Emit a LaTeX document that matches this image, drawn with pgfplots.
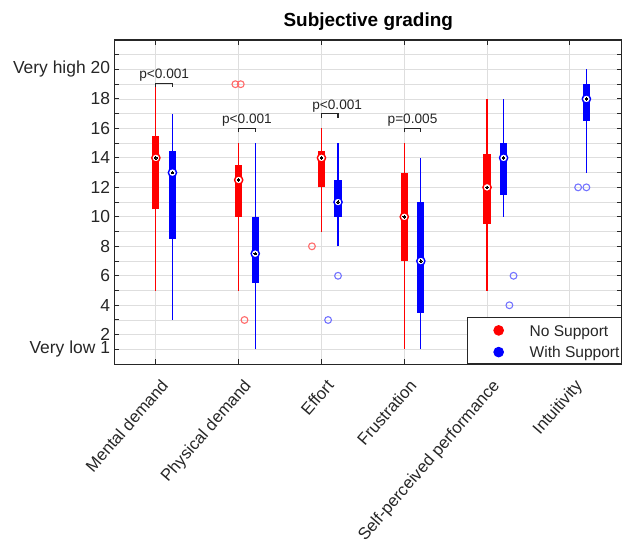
\documentclass[border=0pt]{standalone}
\usepackage{fontspec}
\setmainfont{Liberation Sans}
\usepackage{pgfplots}
\pgfplotsset{compat=1.18}
\definecolor{mred}{rgb}{1,0,0}
\definecolor{mblue}{rgb}{0,0,1}
\definecolor{ored}{rgb}{1,0.42,0.42}
\definecolor{oblue}{rgb}{0.45,0.45,1}
\definecolor{axgray}{rgb}{0.15,0.15,0.15}
\newcommand{\bx}[7]{%
  \addplot[#7, line width=1.2bp, forget plot] coordinates {(#1,#2) (#1,#6)};
  \addplot[#7, line width=7.2bp, forget plot] coordinates {(#1,#3) (#1,#5)};
  \addplot[only marks, mark=*, mark size=4.1bp, mark options={draw=#7, fill=white, line width=1.4bp}, forget plot] coordinates {(#1,#4)};
  \addplot[only marks, mark=*, mark size=1.3bp, mark options={draw=black, fill=black, line width=0pt}, forget plot] coordinates {(#1,#4)};
}
\newcommand{\brk}[2]{%
  \addplot[axgray, line width=1.2bp, forget plot] coordinates {(#1,#2-0.27) (#1,#2) (#1+0.2,#2) (#1+0.2,#2-0.27)};
}
\pgfplotsset{
  redleg/.style={legend image code/.code={\path[draw=none,fill=none] (0bp,-4bp) rectangle (60bp,12.5bp); \draw[mred, mark=*, mark size=4.8bp, mark options={draw=mred, fill=mred}] plot coordinates {(29bp,1.6bp)};}},
  blueleg/.style={legend image code/.code={\path[draw=none,fill=none] (0bp,-4bp) rectangle (60bp,4bp); \draw[mblue, mark=*, mark size=4.8bp, mark options={draw=mblue, fill=mblue}] plot coordinates {(29bp,1.6bp)};}},
}
\begin{document}
\begin{tikzpicture}
\begin{axis}[
  width=507.5bp, height=324.2bp, scale only axis,
  xmin=0.5, xmax=6.63, ymin=0, ymax=22,
  xtick={1,2,3,4,5,6},
  xticklabels={Mental demand,Physical demand,Effort,Frustration,Self-perceived performance,Intuitivity},
  ytick={1,2,4,6,8,10,12,14,16,18,20},
  yticklabels={Very low 1,2,4,6,8,10,12,14,16,18,Very high 20},
  minor ytick={3,5,...,21},
  xmajorgrids, ymajorgrids, yminorgrids,
  major grid style={draw=black!13, line width=0.8bp},
  minor grid style={draw=black!13, line width=0.8bp},
  axis line style={draw=axgray, line width=1.1bp},
  every tick/.style={draw=axgray, line width=1bp},
  major tick length=5bp, minor tick length=5bp,
  tick align=inside,
  yticklabel style={font=\fontsize{17.5}{20}\selectfont, text=axgray, xshift=-1bp},
  xticklabel style={font=\fontsize{16.8}{19}\selectfont, text=axgray, rotate=49, anchor=north east, inner sep=0pt, xshift=-7.9bp, yshift=-12.1bp},
  title={Subjective grading},
  title style={at={(0.5,1)}, anchor=base, yshift=8bp, font=\bfseries\fontsize{19}{22}\selectfont, text=black},
  legend style={at={(1,0)}, anchor=south east, draw=axgray, line width=1bp, fill=white,
    inner xsep=2bp, inner ysep=2.5bp, row sep=6.7bp,
    font=\fontsize{15.6}{18}\selectfont, text=axgray,
    nodes={inner sep=0pt, text height=11.5bp, text depth=3.5bp},
    cells={anchor=west}},
]
% No Support (red)
\bx{1}{5}{10.5}{14}{15.5}{19}{mred}
\bx{2}{5}{10}{12.5}{13.5}{15}{mred}
\bx{3}{9}{12}{14}{14.5}{16}{mred}
\bx{4}{1}{7}{10}{13}{15}{mred}
\bx{5}{5}{9.5}{12}{14.25}{18}{mred}
% With Support (blue)
\bx{1.2}{3}{8.5}{13}{14.5}{17}{mblue}
\bx{2.2}{1}{5.5}{7.5}{10}{15}{mblue}
\bx{3.2}{8}{10}{11}{12.5}{15}{mblue}
\bx{4.2}{1}{3.5}{7}{11}{14}{mblue}
\bx{5.2}{10}{11.5}{14}{15}{18}{mblue}
\bx{6.2}{13}{16.5}{18}{19}{20}{mblue}
% outliers
\addplot[only marks, mark=o, mark size=3.4bp, mark options={draw=ored, line width=1.1bp}, forget plot]
  coordinates {(1.96,19) (2.025,19) (2.07,3) (2.885,8)};
\addplot[only marks, mark=o, mark size=3.4bp, mark options={draw=oblue, line width=1.1bp}, forget plot]
  coordinates {(3.2,6) (3.08,3) (5.32,6) (5.27,4) (6.1,12) (6.2,12)};
% significance brackets
\brk{1}{19.05}
\brk{2}{16}
\brk{3}{17}
\brk{4}{16}
\node[anchor=south, inner sep=1.5bp, font=\fontsize{13.7}{16}\selectfont, text=axgray] at (axis cs:1.1,19.05) {p<0.001};
\node[anchor=south, inner sep=1.5bp, font=\fontsize{13.7}{16}\selectfont, text=axgray] at (axis cs:2.1,16) {p<0.001};
\node[anchor=south, inner sep=1.5bp, font=\fontsize{13.7}{16}\selectfont, text=axgray] at (axis cs:3.19,17) {p<0.001};
\node[anchor=south, inner sep=1.5bp, font=\fontsize{13.7}{16}\selectfont, text=axgray] at (axis cs:4.1,16) {p=0.005};
% legend
\addlegendimage{redleg}
\addlegendentry{No Support}
\addlegendimage{blueleg}
\addlegendentry{With Support}
\end{axis}
\pgfresetboundingbox
\path (current axis.south west) ++(-114.5bp,-180.8bp) rectangle ++(622bp,545bp);
\end{tikzpicture}
\end{document}
